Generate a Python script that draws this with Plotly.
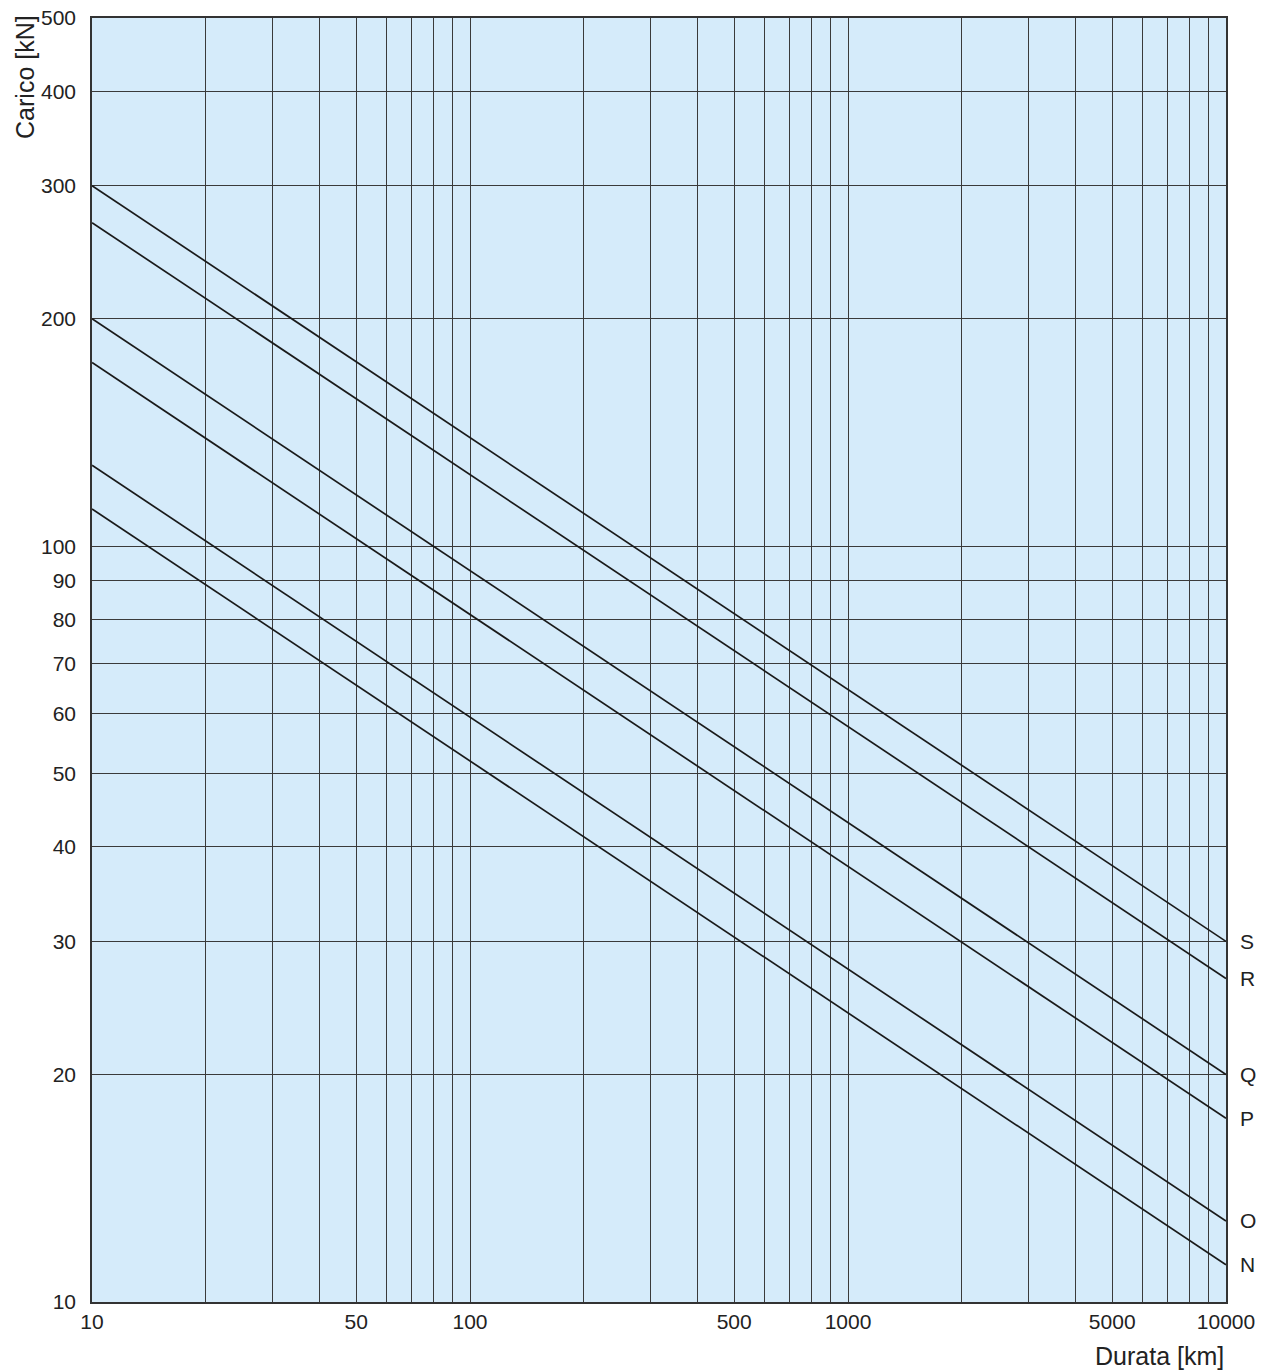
import math
import plotly.graph_objects as go

# Data
series_names = ["S", "R", "Q", "P", "O", "N"]
durata = [10, 10000]
carico_start = [300, 268, 200, 175, 128, 112]
carico_end = [30, 26.8, 20, 17.5, 12.8, 11.2]

x_grid = [10, 20, 30, 40, 50, 60, 70, 80, 90, 100, 200, 300, 400, 500, 600, 700, 800, 900,
          1000, 2000, 3000, 4000, 5000, 6000, 7000, 8000, 9000, 10000]
x_labeled = [10, 50, 100, 500, 1000, 5000, 10000]
y_grid = [10, 20, 30, 40, 50, 60, 70, 80, 90, 100, 200, 300, 400, 500]

font = "Liberation Sans, Arial, sans-serif"
txt = "#222"

fig = go.Figure()
for name, a, b in zip(series_names, carico_start, carico_end):
    fig.add_trace(go.Scatter(x=durata, y=[a, b], mode="lines", name=name,
                             line=dict(color="#1a1a1a", width=1.7),
                             showlegend=False, hoverinfo="skip"))
    fig.add_annotation(x=math.log10(durata[-1]), y=math.log10(b), xref="x", yref="y",
                       text=name, showarrow=False, xanchor="left", xshift=12,
                       font=dict(size=21, color=txt, family=font))

fig.update_xaxes(type="log", range=[1, 4], tickvals=x_grid,
                 ticktext=[str(v) if v in x_labeled else "" for v in x_grid],
                 showgrid=True, gridcolor="#3a3a3a", gridwidth=1,
                 showline=True, linecolor="#333", linewidth=1.5, mirror=True,
                 ticks="", zeroline=False, automargin=False,
                 tickfont=dict(size=21, color=txt, family=font))
fig.update_yaxes(type="log", range=[1, math.log10(500)], tickvals=y_grid,
                 ticktext=[str(v) for v in y_grid],
                 showgrid=True, gridcolor="#3a3a3a", gridwidth=1,
                 showline=True, linecolor="#333", linewidth=1.5, mirror=True,
                 ticks="", zeroline=False, ticklabelstandoff=10, automargin=False,
                 tickfont=dict(size=21, color=txt, family=font))

fig.add_annotation(x=1, y=-0.042, xref="paper", yref="paper", text="Durata [km]",
                   showarrow=False, xanchor="right", yanchor="middle",
                   font=dict(size=25, color=txt, family=font))
fig.add_annotation(x=-0.059, y=1.004, xref="paper", yref="paper", text="Carico [kN]",
                   showarrow=False, xanchor="center", yanchor="top", textangle=-90,
                   font=dict(size=25, color=txt, family=font))

fig.update_layout(width=1264, height=1372,
                  margin=dict(l=92, r=38, t=18, b=70, autoexpand=False),
                  paper_bgcolor="white", plot_bgcolor="#d5ebfa",
                  font=dict(family=font))

fig.write_html("out.html", config={"displayModeBar": False},
               post_script="document.body.style.margin='0';")
